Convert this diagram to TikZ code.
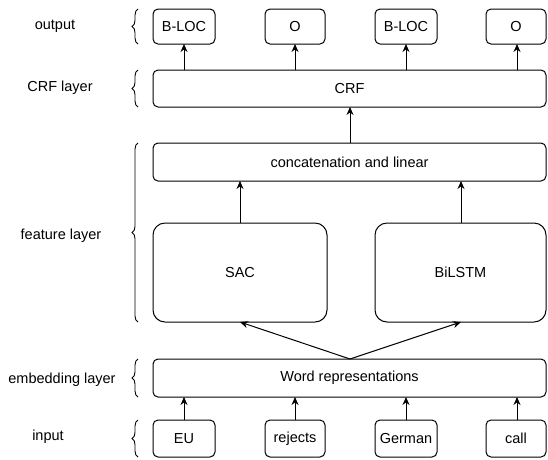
\documentclass[tikz,border=0pt]{standalone}
\usepackage{fontspec}
\setmainfont{Liberation Sans}
\usetikzlibrary{arrows.meta,decorations.pathreplacing}
\begin{document}
\begin{tikzpicture}[x=1pt,y=-1pt,
  box/.style={draw,line width=1pt,rounded corners=5pt,font=\fontsize{14.5}{16}\selectfont},
  bigbox/.style={draw,line width=1pt,rounded corners=12pt,font=\fontsize{14.5}{16}\selectfont},
  arr/.style={line width=1pt,-{Stealth[length=8pt,width=7pt]}},
  brc/.style={decorate,decoration={brace,amplitude=6pt},line width=0.9pt},
  lbl/.style={font=\fontsize{14.5}{16}\selectfont}]
\useasboundingbox (0,0) rectangle (548,459);

% output row
\draw[box] (153,9) rectangle (215,44) node[midway] (o1) {B-LOC};
\draw[box] (265,9) rectangle (325,44) node[midway] (o2) {O};
\draw[box] (375,9) rectangle (437,44) node[midway] (o3) {B-LOC};
\draw[box] (486,9) rectangle (546,44) node[midway] (o4) {O};

% CRF
\draw[box] (153,70) rectangle (546,107) node[midway] (crf) {CRF};
% concatenation
\draw[box] (153,143) rectangle (546,181) node[midway] (cat) {concatenation and linear};
% feature extractors
\draw[bigbox] (153,223) rectangle (327,322) node[midway] (sac) {SAC};
\draw[bigbox] (375,223) rectangle (546,322) node[midway] (bil) {BiLSTM};
% embedding
\draw[box] (153,359) rectangle (546,397) node[midway] (emb) {Word representations};
% input row
\draw[box] (153,420) rectangle (215,457) node[midway] (i1) {EU};
\draw[box] (265,420) rectangle (325,457) node[midway] (i2) {rejects};
\draw[box] (375,420) rectangle (437,457) node[midway] (i3) {German};
\draw[box] (486,420) rectangle (546,457) node[midway] (i4) {call};

% arrows
\foreach \x in {184,295,406,517}{
  \draw[arr] (\x,70) -- (\x,44);
  \draw[arr] (\x,420) -- (\x,397);
}
\draw[arr] (350,143) -- (350,107);
\draw[arr] (240,223) -- (240,181);
\draw[arr] (461,223) -- (461,181);
\coordinate (split) at (350,359);
\draw[arr] (split) -- (240,322);
\draw[arr] (split) -- (461,322);

% braces and layer names
\draw[brc] (138,44) -- (138,9);
\draw[brc] (138,107) -- (138,70);
\draw[brc] (138,322) -- (138,143);
\draw[brc] (138,397) -- (138,359);
\draw[brc] (138,457) -- (138,420);
\node[lbl] (l1) at (55,26) {output};
\node[lbl] (l2) at (60,88) {CRF layer};
\node[lbl] (l3) at (61,236) {feature layer};
\node[lbl] (l4) at (62,380) {embedding layer};
\node[lbl] (l5) at (48,437) {input};
\end{tikzpicture}
\end{document}
